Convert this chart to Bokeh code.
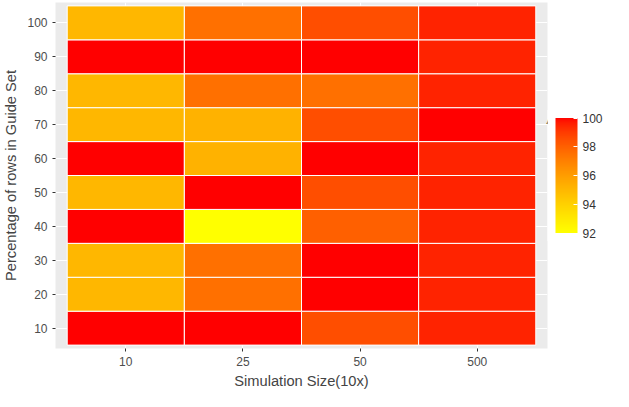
from bokeh.plotting import figure
from bokeh.models import LinearColorMapper, ColorBar, FixedTicker, ColumnDataSource, Range1d, Label
from bokeh.embed import file_html
from bokeh.resources import INLINE

sizes = ["10", "25", "50", "500"]
rows = ["10", "20", "30", "40", "50", "60", "70", "80", "90", "100"]
# accuracy per row (bottom to top), columns in order of sizes
acc = {
    "10":  [100, 100, 98.5, 99.5],
    "20":  [95, 97.5, 100, 99.5],
    "30":  [95, 97.5, 100, 99.5],
    "40":  [100, 92, 98, 99.5],
    "50":  [95, 100, 98.5, 99.5],
    "60":  [100, 95.2, 100, 99.5],
    "70":  [95, 95.2, 98.5, 100],
    "80":  [95, 97.5, 97.5, 99.5],
    "90":  [100, 100, 100, 99.5],
    "100": [95, 97.5, 98.5, 99.5],
}

xs, ys, vals = [], [], []
for j, r in enumerate(rows):
    for i, s in enumerate(sizes):
        xs.append(i + 1)
        ys.append(j + 1)
        vals.append(acc[r][i])
src = ColumnDataSource(dict(x=xs, y=ys, v=vals))

# yellow -> red palette, approximating ggplot's Lab interpolation
palette = []
for k in range(256):
    t = k / 255
    g = int(round(255 * (1 - t) ** 0.7))
    palette.append("#ff%02x00" % g)
mapper = LinearColorMapper(palette=palette, low=92, high=100)

p = figure(width=613, height=391, output_backend="svg", toolbar_location=None,
           x_range=Range1d(0.4, 4.6), y_range=Range1d(0.4, 10.6),
           min_border_left=10, min_border_top=2, min_border_bottom=0)
p.rect("x", "y", 1, 1, source=src, fill_color={"field": "v", "transform": mapper},
       line_color="white", line_width=1)
p.background_fill_color = "#ebebeb"
p.border_fill_color = "white"
p.outline_line_color = None
p.grid.grid_line_color = "white"
p.xgrid.ticker = FixedTicker(ticks=[1, 2, 3, 4])
p.ygrid.ticker = FixedTicker(ticks=list(range(1, 11)))
p.xaxis.ticker = FixedTicker(ticks=[1, 2, 3, 4])
p.yaxis.ticker = FixedTicker(ticks=list(range(1, 11)))
p.xaxis.major_label_overrides = {i + 1: s for i, s in enumerate(sizes)}
p.yaxis.major_label_overrides = {j + 1: r for j, r in enumerate(rows)}
p.xaxis.axis_label = "Simulation Size(10x)"
p.yaxis.axis_label = "Percentage of rows in Guide Set"
p.xaxis.axis_label_standoff = 4
for ax in (p.xaxis, p.yaxis):
    ax.axis_line_color = None
    ax.major_tick_line_color = "#333333"
    ax.major_tick_out = 3
    ax.major_tick_in = 0
    ax.minor_tick_line_color = None
    ax.major_label_text_color = "#4d4d4d"
    ax.major_label_text_font_size = "9pt"
    ax.axis_label_text_font_size = "11pt"
    ax.axis_label_text_font_style = "normal"
    ax.axis_label_text_font = "Arial"
    ax.major_label_text_font = "Arial"

cb = ColorBar(color_mapper=mapper, ticker=FixedTicker(ticks=[92, 94, 96, 98, 100]),
              width=22, height=115, major_label_text_font_size="9pt",
              major_label_text_color="#333333", major_tick_line_color="white",
              major_tick_in=4, bar_line_color=None, location="center",
              background_fill_color="white", border_line_color=None, padding=8)
p.add_layout(cb, "right")

p.add_layout(Label(x=491, y=222, x_units="screen", y_units="screen", text="Accuracy",
                   text_font_size="11pt", text_font="Arial", text_color="black"))

open("out.html", "w").write(file_html(p, INLINE))
